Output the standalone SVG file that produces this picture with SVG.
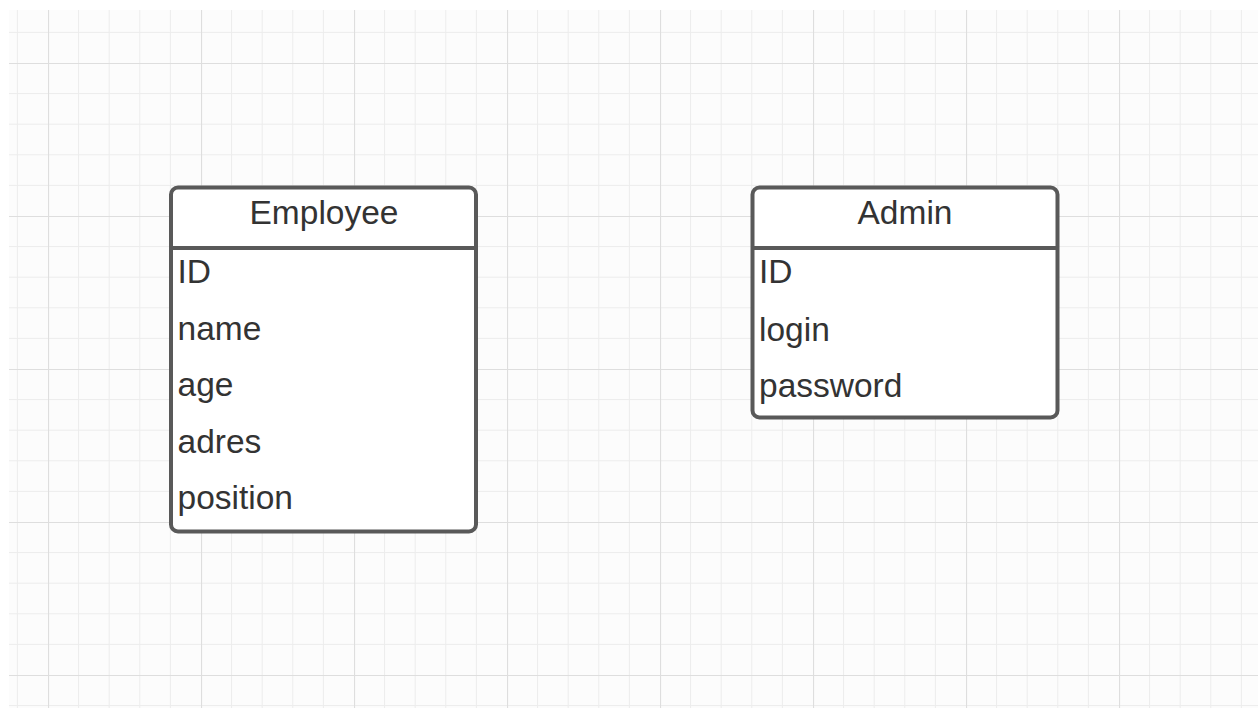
<svg xmlns="http://www.w3.org/2000/svg" width="1258" height="708" viewBox="0 0 1258 708">
  <style>
    .box { fill: #ffffff; stroke: #595959; stroke-width: 4; }
    .div { stroke: #595959; stroke-width: 4; }
    .title { font-family: "Liberation Sans", Arial, sans-serif; font-size: 33.5px; fill: #333333; text-anchor: middle; }
    .field { font-family: "Liberation Sans", Arial, sans-serif; font-size: 33.5px; fill: #333333; }
    .minor { stroke: #ececec; stroke-width: 1; }
    .major { stroke: #dedede; stroke-width: 1.2; }
  </style>
  <defs>
    <pattern id="grid" patternUnits="userSpaceOnUse" x="48" y="63" width="153" height="153">
      <line class="minor" x1="30.6" y1="0" x2="30.6" y2="153"/>
      <line class="minor" x1="61.2" y1="0" x2="61.2" y2="153"/>
      <line class="minor" x1="91.8" y1="0" x2="91.8" y2="153"/>
      <line class="minor" x1="122.4" y1="0" x2="122.4" y2="153"/>
      <line class="minor" x1="0" y1="30.6" x2="153" y2="30.6"/>
      <line class="minor" x1="0" y1="61.2" x2="153" y2="61.2"/>
      <line class="minor" x1="0" y1="91.8" x2="153" y2="91.8"/>
      <line class="minor" x1="0" y1="122.4" x2="153" y2="122.4"/>
      <line class="major" x1="0.5" y1="0" x2="0.5" y2="153"/>
      <line class="major" x1="0" y1="0.5" x2="153" y2="0.5"/>
    </pattern>
  </defs>
  <rect x="0" y="0" width="1258" height="708" fill="#ffffff"/>
  <rect x="9" y="10" width="1249" height="698" fill="#fcfcfc"/>
  <rect x="9" y="10" width="1249" height="698" fill="url(#grid)"/>

  <g id="connectors"></g>

  <g id="employee">
    <rect class="box" x="171" y="187.5" width="305" height="344" rx="7" ry="7"/>
    <line class="div" x1="171" y1="248" x2="476" y2="248"/>
    <text class="title" x="324" y="224">Employee</text>
    <text class="field" x="177.5" y="283">ID</text>
    <text class="field" x="177.5" y="340">name</text>
    <text class="field" x="177.5" y="396">age</text>
    <text class="field" x="177.5" y="452.5">adres</text>
    <text class="field" x="177.5" y="509">position</text>
  </g>

  <g id="admin">
    <rect class="box" x="752.5" y="187.5" width="305" height="230" rx="7" ry="7"/>
    <line class="div" x1="752.5" y1="248" x2="1057.5" y2="248"/>
    <text class="title" x="905" y="223.5">Admin</text>
    <text class="field" x="759" y="283">ID</text>
    <text class="field" x="759" y="340.5">login</text>
    <text class="field" x="759" y="396.5">password</text>
  </g>
</svg>
